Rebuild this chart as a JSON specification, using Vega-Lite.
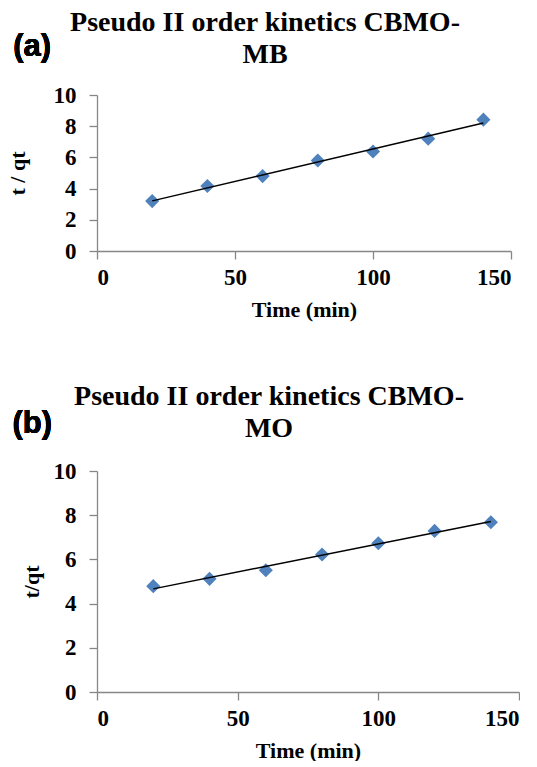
{
  "$schema": "https://vega.github.io/schema/vega-lite/v6.json",
  "padding": {"left": 6, "top": 8, "right": 0, "bottom": 0},
  "background": "white",
  "config": {
    "view": {"stroke": null},
    "axis": {"domainColor": "#878787", "tickColor": "#878787", "grid": false, "labelFont": "Liberation Serif", "labelFontWeight": "bold", "labelFontSize": 23, "labelColor": "black", "titleFont": "Liberation Serif", "titleFontWeight": "bold", "titleFontSize": 22, "titleColor": "black", "tickSize": 8, "domainWidth": 1.3, "tickWidth": 1.3},
    "axisX": {"labelPadding": 7, "titlePadding": 10},
    "axisY": {"labelPadding": 13},
    "title": {"font": "Liberation Serif", "fontWeight": "bold", "fontSize": 28, "color": "black", "lineHeight": 32, "anchor": "middle", "frame": "group"}
  },
  "spacing": 62,
  "vconcat": [
    {
      "width": 414, "height": 156,
      "title": {"text": ["Pseudo II order kinetics CBMO-", "MB"], "dx": -39, "offset": -38},
      "data": {"values": [
        {"time": 20, "tq": 3.2}, {"time": 40, "tq": 4.17}, {"time": 60, "tq": 4.8}, {"time": 80, "tq": 5.8},
        {"time": 100, "tq": 6.38}, {"time": 120, "tq": 7.2}, {"time": 140, "tq": 8.42}
      ]},
      "encoding": {
        "x": {"field": "time", "type": "quantitative", "scale": {"domain": [0, 150], "nice": false}, "axis": {"values": [0, 50, 100, 150], "title": "Time (min)"}},
        "y": {"field": "tq", "type": "quantitative", "scale": {"domain": [0, 10], "nice": false}, "axis": {"values": [0, 2, 4, 6, 8, 10], "title": "t / qt", "titlePadding": 24}}
      },
      "layer": [
        {"mark": {"type": "point", "shape": "diamond", "filled": true, "size": 200, "color": "#4F81BD", "opacity": 1}},
        {"transform": [{"regression": "tq", "on": "time"}], "mark": {"type": "line", "color": "black", "strokeWidth": 1.5}},
        {"mark": {"type": "text", "text": "(a)", "font": "Liberation Sans", "fontWeight": "bold", "fontSize": 31, "align": "center", "baseline": "middle", "color": "black"},
         "encoding": {"x": {"datum": -23.5}, "y": {"datum": 13.1}}}
      ]
    },
    {
      "width": 422, "height": 221,
      "title": {"text": ["Pseudo II order kinetics CBMO-", "MO"], "dx": -39, "offset": -35},
      "data": {"values": [
        {"time": 20, "tq": 4.79}, {"time": 40, "tq": 5.12}, {"time": 60, "tq": 5.51}, {"time": 80, "tq": 6.22},
        {"time": 100, "tq": 6.73}, {"time": 120, "tq": 7.29}, {"time": 140, "tq": 7.68}
      ]},
      "encoding": {
        "x": {"field": "time", "type": "quantitative", "scale": {"domain": [0, 150], "nice": false}, "axis": {"values": [0, 50, 100, 150], "title": "Time (min)"}},
        "y": {"field": "tq", "type": "quantitative", "scale": {"domain": [0, 10], "nice": false}, "axis": {"values": [0, 2, 4, 6, 8, 10], "title": "t/qt", "titlePadding": 10}}
      },
      "layer": [
        {"mark": {"type": "point", "shape": "diamond", "filled": true, "size": 200, "color": "#4F81BD", "opacity": 1}},
        {"transform": [{"regression": "tq", "on": "time"}], "mark": {"type": "line", "color": "black", "strokeWidth": 1.5}},
        {"mark": {"type": "text", "text": "(b)", "font": "Liberation Sans", "fontWeight": "bold", "fontSize": 31, "align": "center", "baseline": "middle", "color": "black"},
         "encoding": {"x": {"datum": -23}, "y": {"datum": 12.13}}}
      ]
    }
  ]
}
